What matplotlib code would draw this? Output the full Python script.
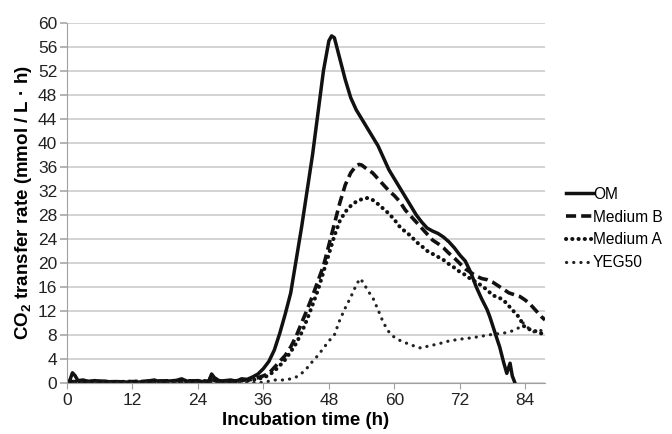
import numpy as np
import matplotlib
matplotlib.use("Agg")
import matplotlib.pyplot as plt

plt.rcParams['font.family'] = ['Liberation Sans', 'DejaVu Sans']
plt.rcParams['mathtext.fontset'] = 'custom'
plt.rcParams['mathtext.rm'] = 'Liberation Sans'
plt.rcParams['mathtext.bf'] = 'Liberation Sans:bold'

# OM (solid)
om_t = [0, 0.5, 1, 1.5, 2, 3, 4, 5, 6, 8, 10, 12, 14, 16, 17, 18, 20, 21, 22, 24, 25, 26,
        26.5, 27, 28, 30, 31, 32, 33, 34, 35, 36, 37, 38, 39, 40, 41, 42, 43, 44, 45, 46, 47,
        48, 48.5, 49, 50, 51, 52, 53, 54, 55, 56, 57, 58, 59, 60, 61, 62, 63, 64, 65, 66, 67,
        68, 69, 70, 71, 72, 73, 74, 75, 76, 77, 77.5, 78, 79, 79.3, 80, 80.6, 81.2, 81.6, 82.1]
om_y = [0.2, 0.4, 1.7, 1.2, 0.4, 0.5, 0.2, 0.4, 0.3, 0.2, 0.2, 0.1, 0.2, 0.5, 0.2, 0.3, 0.4,
        0.7, 0.3, 0.4, 0.2, 0.3, 1.5, 0.9, 0.3, 0.5, 0.3, 0.7, 0.6, 1.0, 1.5, 2.4, 3.6, 5.5,
        8.3, 11.5, 15, 20.5, 26, 32, 38, 45, 52, 57, 57.8, 57.5, 54, 50.5, 47.5, 45.5, 44,
        42.5, 41, 39.5, 37.5, 35.5, 34, 32.5, 31, 29.5, 28, 26.8, 25.8, 25.3, 24.9, 24.3, 23.5,
        22.5, 21.3, 20.3, 18.4, 16, 14, 12.2, 11, 9.6, 6.8, 6, 3.5, 1.6, 3.3, 1.2, 0]

# Medium B (dashed)
mb_t = [0, 5, 10, 15, 20, 26, 26.5, 27, 30, 34, 35, 36, 37, 38, 39, 40, 41, 42, 43, 44, 45,
        46, 47, 48, 49, 50, 51, 52, 53, 53.5, 54, 55, 56, 57, 58, 59, 60, 61, 62, 63, 64, 65,
        66, 67, 68, 69, 70, 71, 72, 73, 74, 75, 76, 77, 78, 79, 80, 81, 82, 83, 84, 85, 86, 87,
        87.6]
mb_y = [0.2, 0.3, 0.2, 0.3, 0.4, 0.3, 1.3, 0.4, 0.3, 0.6, 0.9, 1.2, 1.6, 2.6, 3.6, 4.6, 6,
        7.8, 10, 12.2, 14.5, 17, 19.5, 23, 26.5, 30, 33, 35, 36.2, 36.4, 36.3, 35.6, 35, 34,
        33, 32, 31.2, 30.2, 28.8, 27.8, 26.8, 25.8, 24.8, 23.8, 23.2, 22.5, 21.6, 20.8, 19.9,
        19, 18.4, 17.8, 17.4, 17.2, 16.8, 16.2, 15.6, 15, 14.7, 14.4, 13.8, 13, 12, 11, 10.5]

# Medium A (heavy dots)
ma_t = [0, 10, 20, 30, 34, 36, 37, 38, 39, 40, 41, 42, 43, 44, 45, 46, 47, 48, 49, 50, 51,
        52, 53, 54, 55, 56, 57, 58, 59, 60, 61, 62, 63, 64, 65, 66, 67, 68, 69, 70, 71, 72,
        73, 74, 75, 76, 77, 78, 79, 80, 81, 82, 83, 83.6, 84, 85, 86, 87.6]
ma_y = [0.2, 0.2, 0.3, 0.3, 0.5, 0.9, 1.3, 2, 2.9, 3.9, 5.2, 6.6, 8.4, 10.6, 13, 15.5, 18.5,
        21.5, 24.5, 27, 28.5, 29.5, 30.2, 30.6, 30.8, 30.5, 29.8, 29, 28.2, 27.2, 26, 25.2,
        24.5, 23.5, 22.8, 22, 21.5, 21, 20.5, 19.8, 19.2, 18.5, 18, 17.3, 16.8, 16.2, 15.5,
        14.6, 14.3, 13.8, 12.8, 11.8, 10.8, 9.5, 9.4, 8.8, 8.6, 8]

# YEG50 (fine dots)
yeg_t = [0, 10, 20, 30, 36, 37, 38, 39, 40, 41, 42, 43, 44, 45, 46, 47, 48, 49, 50, 51, 52,
         53, 53.7, 54.5, 55, 56, 57, 58, 59, 60, 61, 62, 63, 64, 65, 66, 67, 68, 70, 72, 74,
         76, 78, 80, 81, 82, 83, 83.6, 84.5, 85.5, 86.5, 87.6]
yeg_y = [0, 0, 0, 0, 0.1, 0.3, 0.5, 0.5, 0.5, 0.7, 1.0, 1.6, 2.5, 3.6, 4.6, 5.8, 7.0, 8.0,
         10.5, 12.5, 14.3, 16.3, 17.4, 16.5, 15.5, 14.3, 12.2, 10, 8.5, 7.6, 7.1, 6.7, 6.4,
         6, 5.8, 6.1, 6.3, 6.5, 7, 7.3, 7.5, 7.8, 8.1, 8.3, 8.5, 8.8, 9.3, 10, 9.2, 8.5,
         8.8, 8.6]

x_ticks = [0, 12, 24, 36, 48, 60, 72, 84]
y_ticks = list(range(0, 61, 4))

fig = plt.figure(figsize=(6.72, 4.34), dpi=100)
ax = fig.add_axes([0.0997, 0.1175, 0.7113, 0.8302])

ax.plot(om_t, om_y, color='#111111', lw=2.5, label='OM')
ax.plot(mb_t, mb_y, color='#111111', lw=2.6, dashes=(2.8, 1.4), label='Medium B')
ax.plot(ma_t, ma_y, color='#111111', lw=2.9, dashes=(0.05, 1.5),
        dash_capstyle='round', label='Medium A')
ax.plot(yeg_t, yeg_y, color='#222222', lw=2.3, dashes=(0.05, 2.2),
        dash_capstyle='round', label='YEG50')

ax.set_xlim(0, 87.6)
ax.set_ylim(0, 60)
ax.set_xticks(x_ticks)
ax.set_yticks(y_ticks)
ax.yaxis.grid(True, color='#c8c8c8', lw=1.1)
ax.set_axisbelow(True)
for s in ['top', 'right']:
    ax.spines[s].set_visible(False)
for s in ['left', 'bottom']:
    ax.spines[s].set_color('#a0a0a0')
ax.tick_params(axis='both', colors='#a0a0a0', labelcolor='#222222', labelsize=12.5,
               length=4, pad=3)
ax.tick_params(axis='y', length=5, width=1.1, pad=2)

ax.set_xlabel('Incubation time (h)', fontsize=13.5, fontweight='bold', labelpad=3)
ax.set_ylabel(r'CO$_\mathbf{2}$ transfer rate (mmol / L · h)', fontsize=13.5,
              fontweight='bold', labelpad=3)

fig.legend(loc='center left', bbox_to_anchor=(0.842, 0.4735), frameon=False,
           fontsize=11.2, handlelength=1.75, handletextpad=0.0, labelspacing=0.5,
           borderpad=0, borderaxespad=0)

fig.savefig('out.png', dpi=100)
